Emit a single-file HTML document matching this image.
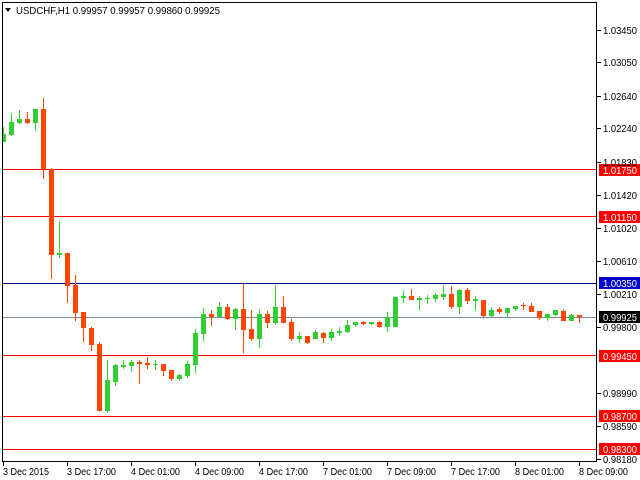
<!DOCTYPE html>
<html><head><meta charset="utf-8"><style>
html,body{margin:0;padding:0;background:#fff;}
svg{display:block;font-family:"Liberation Sans",sans-serif;font-size:10px;}
</style></head><body>
<svg width="640" height="480" viewBox="0 0 640 480" xmlns="http://www.w3.org/2000/svg">
<rect width="640" height="480" fill="#fff"/>
<g shape-rendering="crispEdges">
<rect x="2" y="169" width="595" height="1" fill="#f00"/>
<rect x="2" y="216" width="595" height="1" fill="#f00"/>
<rect x="2" y="283" width="595" height="1" fill="#00008b"/>
<rect x="2" y="317" width="595" height="1" fill="#778899"/>
<rect x="2" y="355" width="595" height="1" fill="#f00"/>
<rect x="2" y="416" width="595" height="1" fill="#f00"/>
<rect x="2" y="449" width="595" height="1" fill="#f00"/>
<g>
<g fill="#32cd32">
<rect x="3" y="127" width="1" height="15"/><rect x="1" y="134" width="5" height="8"/>
<rect x="11" y="113" width="1" height="23"/><rect x="9" y="122" width="5" height="13"/>
<rect x="19" y="110" width="1" height="14"/><rect x="17" y="119" width="5" height="4"/>
<rect x="35" y="109" width="1" height="22"/><rect x="33" y="109" width="5" height="14"/>
<rect x="59" y="221" width="1" height="37"/><rect x="57" y="253" width="5" height="2"/>
<rect x="107" y="360" width="1" height="53"/><rect x="105" y="380" width="5" height="31"/>
<rect x="115" y="364" width="1" height="22"/><rect x="113" y="365" width="5" height="17"/>
<rect x="123" y="360" width="1" height="9"/><rect x="121" y="365" width="5" height="2"/>
<rect x="131" y="360" width="1" height="12"/><rect x="129" y="362" width="5" height="4"/>
<rect x="155" y="360" width="1" height="10"/><rect x="153" y="364" width="5" height="1"/>
<rect x="179" y="374" width="1" height="7"/><rect x="177" y="375" width="5" height="4"/>
<rect x="187" y="361" width="1" height="17"/><rect x="185" y="364" width="5" height="12"/>
<rect x="195" y="329" width="1" height="44"/><rect x="193" y="333" width="5" height="32"/>
<rect x="203" y="308" width="1" height="33"/><rect x="201" y="314" width="5" height="20"/>
<rect x="219" y="302" width="1" height="15"/><rect x="217" y="307" width="5" height="10"/>
<rect x="235" y="308" width="1" height="22"/><rect x="233" y="309" width="5" height="10"/>
<rect x="259" y="309" width="1" height="39"/><rect x="257" y="314" width="5" height="25"/>
<rect x="275" y="285" width="1" height="40"/><rect x="273" y="307" width="5" height="16"/>
<rect x="299" y="332" width="1" height="11"/><rect x="297" y="336" width="5" height="3"/>
<rect x="315" y="330" width="1" height="9"/><rect x="313" y="332" width="5" height="7"/>
<rect x="331" y="329" width="1" height="12"/><rect x="329" y="332" width="5" height="6"/>
<rect x="339" y="327" width="1" height="9"/><rect x="337" y="331" width="5" height="2"/>
<rect x="347" y="320" width="1" height="13"/><rect x="345" y="325" width="5" height="7"/>
<rect x="355" y="322" width="1" height="5"/><rect x="353" y="322" width="5" height="3"/>
<rect x="371" y="322" width="1" height="3"/><rect x="369" y="322" width="5" height="2"/>
<rect x="387" y="312" width="1" height="20"/><rect x="385" y="317" width="5" height="10"/>
<rect x="395" y="297" width="1" height="30"/><rect x="393" y="297" width="5" height="30"/>
<rect x="403" y="291" width="1" height="12"/><rect x="401" y="296" width="5" height="2"/>
<rect x="419" y="296" width="1" height="14"/><rect x="417" y="298" width="5" height="2"/>
<rect x="427" y="295" width="1" height="9"/><rect x="425" y="298" width="5" height="1"/>
<rect x="435" y="293" width="1" height="9"/><rect x="433" y="295" width="5" height="4"/>
<rect x="443" y="285" width="1" height="15"/><rect x="441" y="294" width="5" height="3"/>
<rect x="459" y="289" width="1" height="25"/><rect x="457" y="290" width="5" height="17"/>
<rect x="475" y="296" width="1" height="15"/><rect x="473" y="299" width="5" height="2"/>
<rect x="491" y="307" width="1" height="10"/><rect x="489" y="310" width="5" height="6"/>
<rect x="507" y="308" width="1" height="9"/><rect x="505" y="308" width="5" height="5"/>
<rect x="515" y="306" width="1" height="5"/><rect x="513" y="306" width="5" height="3"/>
<rect x="547" y="314" width="1" height="7"/><rect x="545" y="314" width="5" height="4"/>
<rect x="555" y="310" width="1" height="6"/><rect x="553" y="310" width="5" height="5"/>
<rect x="571" y="314" width="1" height="7"/><rect x="569" y="315" width="5" height="6"/>
</g>
<g fill="#ff4500">
<rect x="27" y="112" width="1" height="12"/><rect x="25" y="119" width="5" height="4"/>
<rect x="43" y="98" width="1" height="81"/><rect x="41" y="109" width="5" height="60"/>
<rect x="51" y="168" width="1" height="111"/><rect x="49" y="169" width="5" height="86"/>
<rect x="67" y="253" width="1" height="50"/><rect x="65" y="253" width="5" height="33"/>
<rect x="75" y="275" width="1" height="46"/><rect x="73" y="285" width="5" height="28"/>
<rect x="83" y="312" width="1" height="30"/><rect x="81" y="312" width="5" height="16"/>
<rect x="91" y="327" width="1" height="24"/><rect x="89" y="328" width="5" height="17"/>
<rect x="99" y="342" width="1" height="69"/><rect x="97" y="344" width="5" height="67"/>
<rect x="139" y="360" width="1" height="24"/><rect x="137" y="362" width="5" height="2"/>
<rect x="147" y="357" width="1" height="12"/><rect x="145" y="363" width="5" height="2"/>
<rect x="163" y="364" width="1" height="12"/><rect x="161" y="364" width="5" height="7"/>
<rect x="171" y="370" width="1" height="11"/><rect x="169" y="370" width="5" height="9"/>
<rect x="211" y="310" width="1" height="16"/><rect x="209" y="314" width="5" height="3"/>
<rect x="227" y="304" width="1" height="16"/><rect x="225" y="307" width="5" height="12"/>
<rect x="243" y="283" width="1" height="70"/><rect x="241" y="309" width="5" height="21"/>
<rect x="251" y="310" width="1" height="31"/><rect x="249" y="329" width="5" height="10"/>
<rect x="267" y="311" width="1" height="17"/><rect x="265" y="314" width="5" height="9"/>
<rect x="283" y="296" width="1" height="27"/><rect x="281" y="307" width="5" height="16"/>
<rect x="291" y="319" width="1" height="22"/><rect x="289" y="322" width="5" height="17"/>
<rect x="307" y="336" width="1" height="8"/><rect x="305" y="336" width="5" height="7"/>
<rect x="323" y="332" width="1" height="11"/><rect x="321" y="333" width="5" height="5"/>
<rect x="363" y="321" width="1" height="4"/><rect x="361" y="322" width="5" height="2"/>
<rect x="379" y="321" width="1" height="7"/><rect x="377" y="322" width="5" height="5"/>
<rect x="411" y="289" width="1" height="11"/><rect x="409" y="296" width="5" height="4"/>
<rect x="451" y="286" width="1" height="23"/><rect x="449" y="294" width="5" height="13"/>
<rect x="467" y="288" width="1" height="16"/><rect x="465" y="290" width="5" height="11"/>
<rect x="483" y="300" width="1" height="17"/><rect x="481" y="300" width="5" height="16"/>
<rect x="499" y="307" width="1" height="7"/><rect x="497" y="309" width="5" height="3"/>
<rect x="523" y="303" width="1" height="7"/><rect x="521" y="305" width="5" height="1"/>
<rect x="531" y="303" width="1" height="9"/><rect x="529" y="306" width="5" height="6"/>
<rect x="539" y="311" width="1" height="9"/><rect x="537" y="311" width="5" height="7"/>
<rect x="563" y="309" width="1" height="12"/><rect x="561" y="311" width="5" height="10"/>
<rect x="579" y="315" width="1" height="8"/><rect x="577" y="315" width="5" height="2"/>
</g>
</g>
<rect x="0" y="0" width="2" height="480" fill="#fff"/>
<rect x="2" y="2" width="1" height="460" fill="#000"/>
<rect x="2" y="2" width="595" height="1" fill="#000"/>
<rect x="596" y="2" width="1" height="460" fill="#000"/>
<rect x="2" y="461" width="595" height="1" fill="#000"/>
<g fill="#000">
<rect x="597" y="30" width="4" height="1"/><rect x="597" y="62" width="4" height="1"/>
<rect x="597" y="96" width="4" height="1"/><rect x="597" y="128" width="4" height="1"/>
<rect x="597" y="162" width="4" height="1"/><rect x="597" y="195" width="4" height="1"/>
<rect x="597" y="228" width="4" height="1"/><rect x="597" y="261" width="4" height="1"/>
<rect x="597" y="294" width="4" height="1"/><rect x="597" y="327" width="4" height="1"/>
<rect x="597" y="393" width="4" height="1"/><rect x="597" y="426" width="4" height="1"/>
<rect x="597" y="459" width="4" height="1"/>
<rect x="3" y="462" width="1" height="4"/><rect x="67" y="462" width="1" height="4"/>
<rect x="131" y="462" width="1" height="4"/><rect x="195" y="462" width="1" height="4"/>
<rect x="259" y="462" width="1" height="4"/><rect x="323" y="462" width="1" height="4"/>
<rect x="387" y="462" width="1" height="4"/><rect x="451" y="462" width="1" height="4"/>
<rect x="515" y="462" width="1" height="4"/><rect x="579" y="462" width="1" height="4"/>
</g>
<rect x="599" y="164" width="41" height="12" fill="#f00"/>
<rect x="599" y="211" width="41" height="12" fill="#f00"/>
<rect x="599" y="277" width="41" height="12" fill="#0000cd"/>
<rect x="599" y="311" width="41" height="12" fill="#000"/>
<rect x="599" y="350" width="41" height="12" fill="#f00"/>
<rect x="599" y="410" width="41" height="12" fill="#f00"/>
<rect x="599" y="443" width="41" height="12" fill="#f00"/>
</g>
<g fill="#000" textLength="34" lengthAdjust="spacingAndGlyphs">
<text x="603" y="34" textLength="34" lengthAdjust="spacingAndGlyphs">1.03450</text>
<text x="603" y="66" textLength="34" lengthAdjust="spacingAndGlyphs">1.03050</text>
<text x="603" y="100" textLength="34" lengthAdjust="spacingAndGlyphs">1.02640</text>
<text x="603" y="132" textLength="34" lengthAdjust="spacingAndGlyphs">1.02240</text>
<text x="603" y="166" textLength="34" lengthAdjust="spacingAndGlyphs">1.01830</text>
<text x="603" y="199" textLength="34" lengthAdjust="spacingAndGlyphs">1.01420</text>
<text x="603" y="232" textLength="34" lengthAdjust="spacingAndGlyphs">1.01020</text>
<text x="603" y="265" textLength="34" lengthAdjust="spacingAndGlyphs">1.00610</text>
<text x="603" y="298" textLength="34" lengthAdjust="spacingAndGlyphs">1.00210</text>
<text x="603" y="331" textLength="34" lengthAdjust="spacingAndGlyphs">0.99800</text>
<text x="603" y="397" textLength="34" lengthAdjust="spacingAndGlyphs">0.98990</text>
<text x="603" y="430" textLength="34" lengthAdjust="spacingAndGlyphs">0.98590</text>
<text x="603" y="463" textLength="34" lengthAdjust="spacingAndGlyphs">0.98180</text>
</g>
<g fill="#fff">
<text x="603" y="174" textLength="34" lengthAdjust="spacingAndGlyphs">1.01750</text>
<text x="603" y="221" textLength="34" lengthAdjust="spacingAndGlyphs">1.01150</text>
<text x="603" y="287" textLength="34" lengthAdjust="spacingAndGlyphs">1.00350</text>
<text x="603" y="321" textLength="34" lengthAdjust="spacingAndGlyphs">0.99925</text>
<text x="603" y="360" textLength="34" lengthAdjust="spacingAndGlyphs">0.99450</text>
<text x="603" y="420" textLength="34" lengthAdjust="spacingAndGlyphs">0.98700</text>
<text x="603" y="453" textLength="34" lengthAdjust="spacingAndGlyphs">0.98300</text>
</g>
<g fill="#000">
<text x="3" y="475" textLength="46" lengthAdjust="spacingAndGlyphs">3 Dec 2015</text>
<text x="67" y="475" textLength="49" lengthAdjust="spacingAndGlyphs">3 Dec 17:00</text>
<text x="131" y="475" textLength="49" lengthAdjust="spacingAndGlyphs">4 Dec 01:00</text>
<text x="195" y="475" textLength="49" lengthAdjust="spacingAndGlyphs">4 Dec 09:00</text>
<text x="259" y="475" textLength="49" lengthAdjust="spacingAndGlyphs">4 Dec 17:00</text>
<text x="323" y="475" textLength="49" lengthAdjust="spacingAndGlyphs">7 Dec 01:00</text>
<text x="387" y="475" textLength="49" lengthAdjust="spacingAndGlyphs">7 Dec 09:00</text>
<text x="451" y="475" textLength="49" lengthAdjust="spacingAndGlyphs">7 Dec 17:00</text>
<text x="515" y="475" textLength="49" lengthAdjust="spacingAndGlyphs">8 Dec 01:00</text>
<text x="579" y="475" textLength="49" lengthAdjust="spacingAndGlyphs">8 Dec 09:00</text>
<polygon points="5,8 11,8 8,12"/>
<text x="16" y="14" textLength="204" lengthAdjust="spacingAndGlyphs">USDCHF,H1  0.99957 0.99957 0.99860 0.99925</text>
</g>
</svg>
</body></html>
